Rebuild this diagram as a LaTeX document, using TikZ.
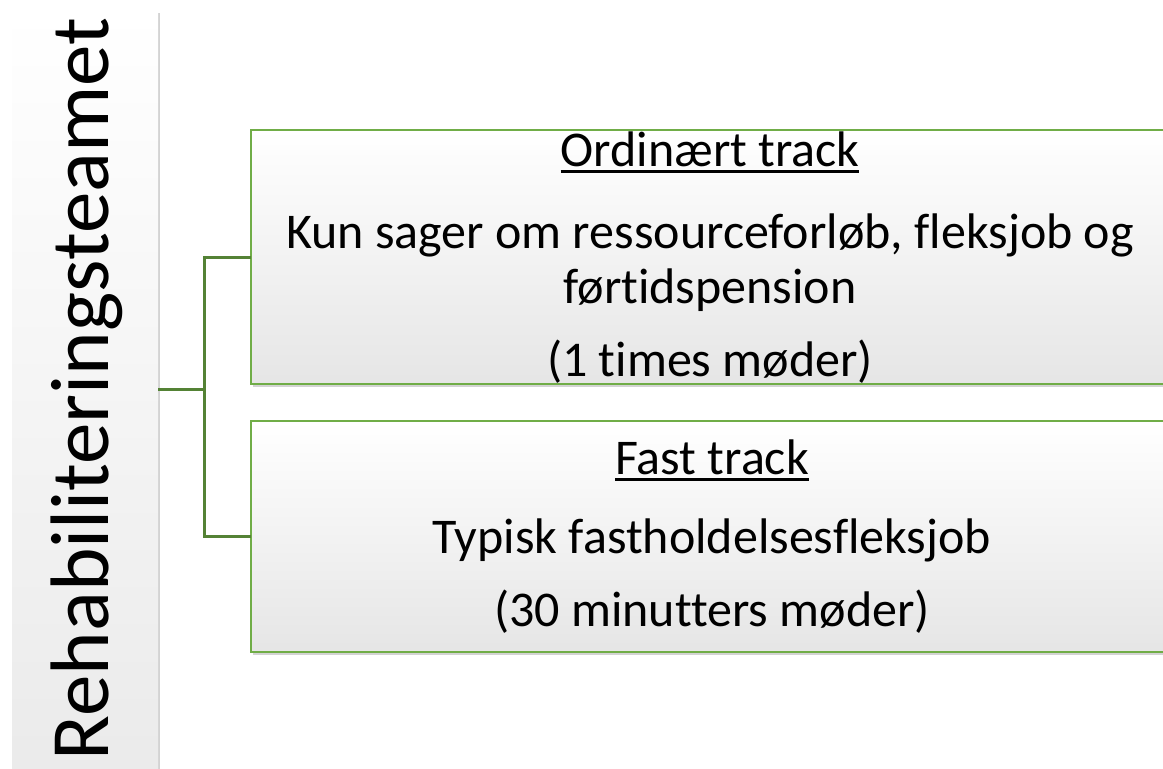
\documentclass[tikz,border=0pt]{standalone}
\usepackage{fontspec}
\setmainfont[Ligatures=NoCommon]{Carlito}
\usetikzlibrary{shadows}
\definecolor{boxgreen}{HTML}{70AD47}
\definecolor{linegreen}{HTML}{548235}
\newcommand\myul[1]{\setbox0\hbox{#1}\rlap{\raisebox{-7pt}{\rule{\wd0}{2.6pt}}}\box0}
\tikzset{
  panel/.style={rectangle, inner sep=0pt, outer sep=0pt, top color=white, bottom color=black!10,
    drop shadow={opacity=0.35, shadow xshift=2pt, shadow yshift=-3pt}},
  trackbox/.style={panel, draw=boxgreen, line width=2.2pt, minimum width=919pt},
  conn/.style={draw=linegreen, line width=3pt},
  txt/.style={anchor=base, inner sep=0pt, font=\fontsize{50}{55}\selectfont},
}
\begin{document}
\begin{tikzpicture}[x=1pt,y=-1pt]
\useasboundingbox (0,0) rectangle (1163,769);
\node[panel, top color=white, bottom color=black!8, minimum width=146pt, minimum height=759pt, anchor=north west] (lb) at (12,10) {};
\node[anchor=base, rotate=90, inner sep=0pt, font=\fontsize{83}{90}\selectfont] (lbt) at (108,389) {Rehabiliteringsteamet};
\node[trackbox, minimum height=254pt, anchor=north west] (b1) at (251,130) {};
\node[trackbox, minimum height=231pt, anchor=north west] (b2) at (251,421) {};
\coordinate (j) at (204,389.5);
\draw[conn] (lb.east) -- (j);
\draw[conn] (j) |- (b1.west);
\draw[conn] (j) |- (b2.west);
\node[txt] (t1) at (710,166) {\myul{Ordinært track}};
\node[txt] (t2) at (710,248) {Kun sager om ressourceforløb, fleksjob og};
\node[txt] (t3) at (710,303) {førtidspension};
\node[txt] (t4) at (710,376) {(1 times møder)};
\node[txt] (t5) at (712,474) {\myul{Fast track}};
\node[txt] (t6) at (712,553) {Typisk fastholdelsesfleksjob};
\node[txt] (t7) at (712,626) {(30 minutters møder)};
\end{tikzpicture}
\end{document}
